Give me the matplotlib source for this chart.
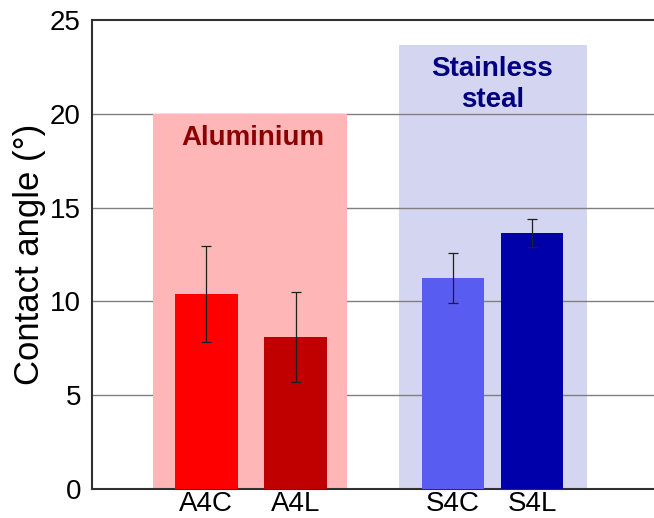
import numpy as np
import matplotlib
matplotlib.use('Agg')
import matplotlib.pyplot as plt

plt.rcParams['font.family'] = ['Liberation Sans', 'DejaVu Sans']

# contact angle per sample, with standard deviation
samples = ['A4C', 'A4L', 'S4C', 'S4L']
angle = [10.4, 8.1, 11.27, 13.63]
angle_err = [2.55, 2.4, 1.33, 0.75]

# group boxes: name, height of box
groups = ['Aluminium', 'Stainless\nsteal']
group_top = [20.0, 23.67]

# layout (x in bar-width units)
xpos = [1.83, 3.26, 5.78, 7.05]
bar_colors = ['#ff0000', '#c00000', '#585cf0', '#0000aa']
box_span = [(0.98, 4.09), (4.91, 7.92)]
box_colors = ['#ffb6b6', '#d4d5f1']
box_z = [2, 0.5]
label_pos = [(2.58, 18.7), (6.41, 21.55)]
label_colors = ['#8b0000', '#000080']

fig = plt.figure(figsize=(6.54, 5.18), dpi=100)
ax = fig.add_axes([0.1407, 0.056, 0.8593, 0.9054])

for y in [5, 10, 15, 20]:
    ax.axhline(y, color='#808080', lw=1.0, zorder=1)

for (x0, x1), top, c, z in zip(box_span, group_top, box_colors, box_z):
    ax.fill_between([x0, x1], 0, top, color=c, lw=0, zorder=z)

for (lx, ly), name, c in zip(label_pos, groups, label_colors):
    ax.text(lx, ly, name, ha='center', va='center', fontsize=20,
            fontweight='bold', color=c, linespacing=1.25, zorder=4)

ax.bar(xpos, angle, width=1.0, color=bar_colors, zorder=3)
ax.errorbar(xpos, angle, yerr=angle_err, fmt='none', ecolor='#202020',
            elinewidth=0.9, capsize=3.8, capthick=0.9, zorder=5)

ax.set_xlim(0, 9)
ax.set_ylim(0, 25)
ax.set_yticks([0, 5, 10, 15, 20, 25])
ax.set_xticks(xpos)
ax.set_xticklabels(samples)
ax.tick_params(axis='both', length=0, labelsize=20)
ax.tick_params(axis='y', pad=8)
ax.tick_params(axis='x', pad=1.5)
ax.set_ylabel('Contact angle (°)', fontsize=25, labelpad=3)

for s in ['left', 'bottom', 'top']:
    ax.spines[s].set_color('#303030')
    ax.spines[s].set_linewidth(1.5)
ax.spines['right'].set_visible(False)

fig.savefig('out.png', dpi=100)
